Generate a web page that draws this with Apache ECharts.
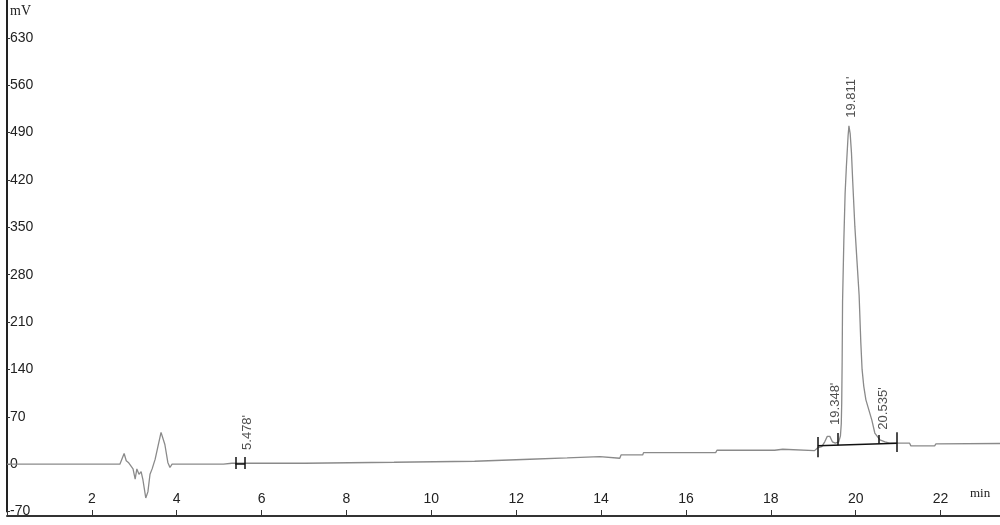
<!DOCTYPE html>
<html>
<head>
<meta charset="utf-8">
<script src="https://cdn.jsdelivr.net/npm/echarts@6/dist/echarts.min.js"></script>
<style>
html,body{margin:0;padding:0;background:#fff;}
#chart{width:1000px;height:525px;}
</style>
</head>
<body>
<div id="chart"></div>
<script>
// Retention time (min) and detector signal (mV)
const times = [0, 2.66, 2.76, 2.81, 2.86, 2.90, 2.97, 3.02, 3.06, 3.11, 3.16, 3.20, 3.27, 3.32, 3.37, 3.42, 3.49, 3.56, 3.63, 3.67, 3.72, 3.79, 3.84, 3.89,
  5.10, 5.30, 7.02, 7.05, 9.12, 9.15, 11.02, 11.05, 12.32, 12.35, 13.20, 13.23, 13.97, 14.00, 14.44, 14.47, 14.98, 15.00, 16.70, 16.73, 18.09, 18.12, 18.28, 18.30, 19.03,
  19.10, 19.20, 19.27, 19.33, 19.39, 19.45, 19.52, 19.60, 19.64, 19.66, 19.67, 19.68, 19.69, 19.72, 19.75, 19.78, 19.82, 19.84,
  19.87, 19.90, 19.93, 19.98, 20.03, 20.08, 20.12, 20.15, 20.19, 20.24, 20.38, 20.45, 20.57, 20.69, 20.80, 21.27, 21.30, 21.86, 21.89, 23.40];
const signal = [0, 0, 15.7, 5, 2.5, 3.4, -7, -22, -7, -15, -11, -22, -50, -41, -15, -7, 7, 27, 47, 48, 29, 2.5, -5, 0,
  0, 1.3, 1.3, 2.8, 2.8, 4.3, 4.3, 7.2, 7.2, 9.2, 9.2, 11.1, 11.1, 8.7, 8.7, 13.6, 13.6, 17, 17, 20.5, 20.5, 22, 22, 20, 20,
  24, 26, 33, 41, 41, 33, 31, 33, 42, 60, 90, 150, 240, 330, 400, 440, 485, 500,
  488, 460, 417, 351, 300, 250, 180, 140, 115, 95, 65, 46, 36, 33, 31, 31, 27, 27, 30, 30.5];

// Peak annotations: label text, position of label foot (min, mV)
const peakLabels = ["5.478'", "19.348'", "19.811'", "20.535'"];
const labelTimes = [5.67, 19.53, 19.90, 20.65];
const labelLevels = [21, 58, 512, 51];

// Integration markers (min, mV)
const markerSegments = [
  [[5.38, -7], [5.38, 10.6]],
  [[5.61, -7], [5.61, 10.6]],
  [[5.38, 0.3], [5.61, 0.3]],
  [[19.11, 10], [19.11, 40]],
  [[19.11, 27], [20.97, 31]],
  [[19.58, 28], [19.58, 46]],
  [[20.55, 30], [20.55, 43]],
  [[20.97, 18], [20.97, 47]]
];

const yTicks = { min: -70, max: 686, step: 70 };
const xTicks = { min: 0, max: 23.4, step: 2 };

const chart = echarts.init(document.getElementById('chart'));
const lineData = times.map((t, i) => [t, signal[i]]);
const labelData = peakLabels.map((s, i) => ({ value: [labelTimes[i], labelLevels[i]], name: s }));

chart.setOption({
  animation: false,
  backgroundColor: '#ffffff',
  grid: { left: 7, right: 0, top: 0, bottom: 13.5, containLabel: false },
  xAxis: {
    type: 'value', min: xTicks.min, max: xTicks.max, interval: xTicks.step,
    offset: 4.5,
    axisLine: { onZero: false, lineStyle: { color: '#333', width: 2 } },
    axisTick: { inside: true, length: 6, lineStyle: { color: '#333', width: 1 } },
    axisLabel: {
      inside: true, margin: 10, color: '#222', fontSize: 14, fontFamily: 'Liberation Sans',
      showMaxLabel: false,
      formatter: v => (v === 0 || v % 2 !== 0) ? '' : String(v)
    },
    splitLine: { show: false }
  },
  yAxis: {
    type: 'value', min: yTicks.min, max: yTicks.max, interval: yTicks.step,
    axisLine: { onZero: false, lineStyle: { color: '#222', width: 2 } },
    axisTick: { inside: true, length: 3, lineStyle: { color: '#333' } },
    axisLabel: {
      inside: true, margin: 3, color: '#222', fontSize: 14, fontFamily: 'Liberation Sans',
      showMaxLabel: false,
      formatter: v => (v % 70 === 0) ? String(v) : ''
    },
    splitLine: { show: false }
  },
  graphic: [
    { type: 'text', left: 10, top: 4, style: { text: 'mV', font: '14px "Liberation Serif"', fill: '#222' } },
    { type: 'text', left: 970, top: 487, style: { text: 'min', font: '13px "Liberation Serif"', fill: '#222' } }
  ],
  series: [
    {
      type: 'line', data: lineData, showSymbol: false, symbol: 'none',
      lineStyle: { color: '#8a8a8a', width: 1.3 }, z: 2
    },
    {
      type: 'lines', coordinateSystem: 'cartesian2d',
      data: markerSegments.map(c => ({ coords: c })),
      lineStyle: { color: '#111', width: 1.5, opacity: 1 }, z: 3
    },
    {
      type: 'scatter', data: labelData, symbolSize: 0, z: 4,
      label: {
        show: true, formatter: p => p.name, rotate: 90, position: [0, 0],
        align: 'left', verticalAlign: 'middle',
        color: '#222', fontSize: 13, fontFamily: 'Liberation Sans'
      }
    }
  ]
});
</script>
</body>
</html>
